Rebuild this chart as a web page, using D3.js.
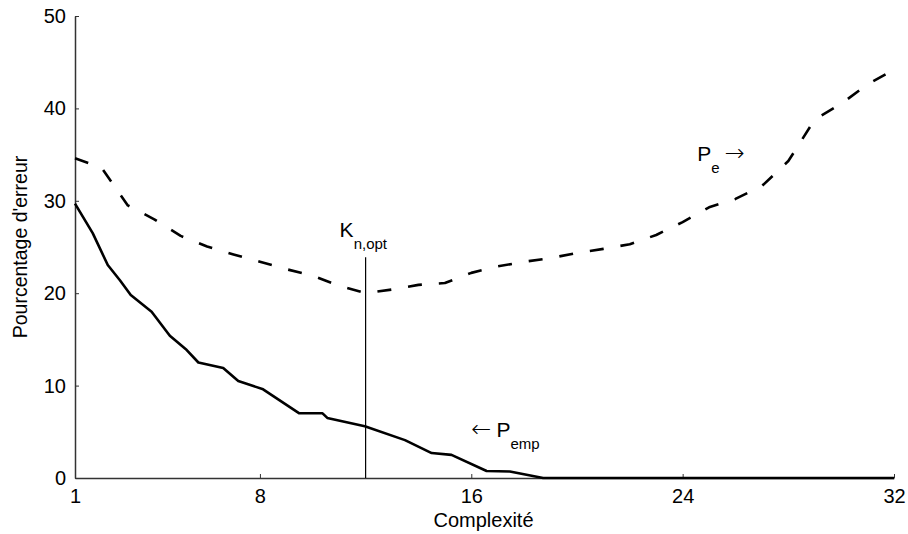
<!DOCTYPE html>
<html>
<head>
<meta charset="utf-8">
<script src="https://cdn.jsdelivr.net/npm/d3@7"></script>
<style>
  html, body { margin: 0; padding: 0; background: #fff; }
  svg { display: block; font-family: "Liberation Sans", Arial, sans-serif; }
</style>
</head>
<body>
<svg id="chart" width="908" height="534"></svg>
<script>
// Complexity values (x) and error percentages (y)
const peX = [1, 2, 3, 4, 5, 6, 7, 8, 9, 10, 11, 12, 13, 14, 15, 16,
             17, 18, 19, 20, 21, 22, 23, 24, 25, 26, 27, 28, 29, 30, 31, 32];
const peY = [34.6, 33.6, 29.5, 28.0, 26.2, 25.05, 24.2, 23.4, 22.6, 21.9, 20.8, 20.0,
             20.4, 20.9, 21.1, 22.2, 22.9, 23.4, 23.8, 24.35, 24.8, 25.3, 26.3, 27.7,
             29.3, 30.2, 31.6, 34.3, 38.8, 40.5, 42.6, 44.2];

const pempX = [1.00, 1.67, 2.24, 2.70, 3.11, 3.90, 4.59, 5.23, 5.67, 6.61, 7.18,
               8.12, 9.49, 10.37, 10.55, 11.97, 13.49, 14.50, 15.25, 16.58, 17.46,
               18.72, 32];
const pempY = [29.7, 26.5, 23.05, 21.4, 19.8, 18.0, 15.4, 13.85, 12.5, 11.9, 10.5,
               9.6, 7.0, 7.0, 6.5, 5.6, 4.1, 2.7, 2.5, 0.76, 0.7, 0, 0];

const xTicks = [1, 8, 16, 24, 32];
const yTicks = [0, 10, 20, 30, 40, 50];

// Optimal complexity marker
const kOpt = 12;
const kOptTop = 23.9;

const svg = d3.select("#chart");
const x = d3.scaleLinear().domain([1, 32]).range([75, 894]);
const y = d3.scaleLinear().domain([0, 50]).range([478, 16]);

const axisColor = "#333";

// Axes
const gx = svg.append("g").attr("transform", `translate(0,${y(0)})`)
  .call(d3.axisBottom(x).tickValues(xTicks).tickSizeInner(-4).tickSizeOuter(0).tickPadding(11));
const gy = svg.append("g").attr("transform", `translate(${x(1)},0)`)
  .call(d3.axisLeft(y).tickValues(yTicks).tickSizeInner(-4).tickSizeOuter(0).tickPadding(9));

[gx, gy].forEach(g => {
  g.select(".domain").attr("stroke", axisColor).attr("stroke-width", 1.5);
  g.selectAll(".tick line").attr("stroke", axisColor).attr("stroke-width", 1);
  g.selectAll(".tick text").attr("fill", "#000").style("font-size", "20px")
    .style("font-family", '"Liberation Sans", Arial, sans-serif');
});

// Axis titles
svg.append("text")
  .attr("x", (x(1) + x(32)) / 2 - 1).attr("y", 527)
  .attr("text-anchor", "middle").style("font-size", "20px")
  .text("Complexité");

svg.append("text")
  .attr("transform", `translate(27,${(y(0) + y(50)) / 2}) rotate(-90)`)
  .attr("text-anchor", "middle").style("font-size", "19.5px")
  .text("Pourcentage d'erreur");

// Vertical line at the optimal complexity
svg.append("line")
  .attr("x1", x(kOpt)).attr("x2", x(kOpt))
  .attr("y1", y(0)).attr("y2", y(kOptTop))
  .attr("stroke", "#000").attr("stroke-width", 1.2);

const line = d3.line().x(d => x(d[0])).y(d => y(d[1]));

// Generalisation error (dashed)
svg.append("path")
  .datum(d3.zip(peX, peY))
  .attr("d", line)
  .attr("fill", "none").attr("stroke", "#000")
  .attr("stroke-width", 2.6).attr("stroke-dasharray", "14,17")
  .attr("stroke-linejoin", "round");

// Empirical error (solid)
svg.append("path")
  .datum(d3.zip(pempX, pempY))
  .attr("d", line)
  .attr("fill", "none").attr("stroke", "#000")
  .attr("stroke-width", 2.6).attr("stroke-linejoin", "round");

// Annotations with subscripts and arrows
const arrowFont = '"DejaVu Sans", sans-serif';
function label(px, py, parts) {
  const t = svg.append("text").attr("x", px).attr("y", py);
  parts.forEach(p => {
    const s = t.append("tspan")
      .attr("dy", p.dy || 0)
      .style("font-size", p.size + "px")
      .text(p.text);
    if (p.dx) s.attr("dx", p.dx);
    if (p.arrow) s.style("font-family", arrowFont).style("font-weight", "200");
  });
  return t;
}

label(x(kOpt) - 26, y(26.1), [
  { text: "K", size: 21 },
  { text: "n,opt", size: 15, dy: 12 }
]);

label(x(24.55), y(34.3), [
  { text: "P", size: 21 },
  { text: "e", size: 15, dy: 12 },
  { text: "→", size: 24, dy: -12, dx: 5, arrow: true }
]);

label(x(16.0), y(4.4), [
  { text: "←", size: 24, arrow: true },
  { text: "P", size: 21, dx: 5 },
  { text: "emp", size: 15, dy: 12 }
]);
</script>
</body>
</html>
